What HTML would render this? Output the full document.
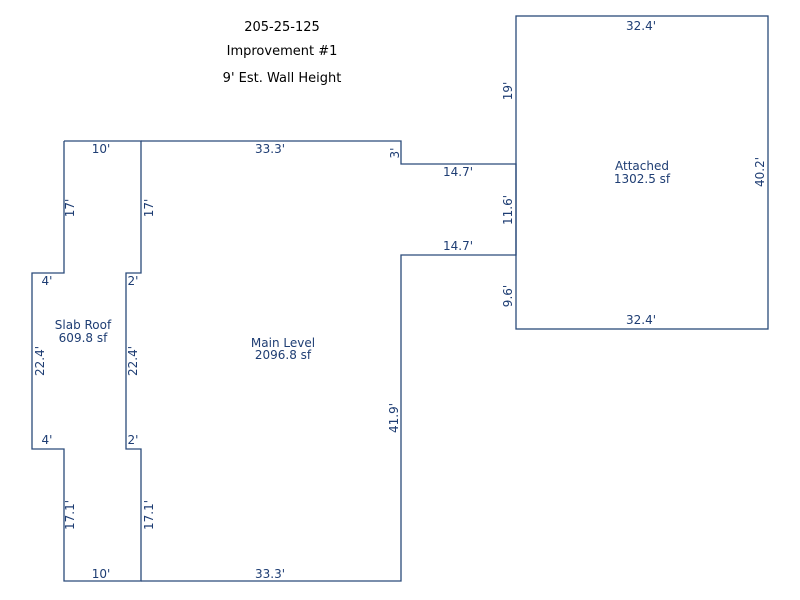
<!DOCTYPE html>
<html><head><style>
html,body{margin:0;padding:0;background:#fff;}
svg{display:block;}
text{font-family:"DejaVu Sans","Liberation Sans",sans-serif;font-size:12px;fill:#1e3d73;}
.t{fill:#000;font-size:13px;}
</style></head><body>
<svg width="800" height="600" viewBox="0 0 800 600" xmlns="http://www.w3.org/2000/svg">
<g fill="none" stroke="#2a4a7a" stroke-width="1.3">
<polyline points="64,141 141,141 141,273 126,273 126,449 141,449 141,581 64,581 64,449 32,449 32,273 64,273 64,141"/>
<polyline points="141,141 401,141 401,164 516,164 516,255 401,255 401,581 141,581"/>
<rect x="516" y="16" width="252" height="313"/>
</g>
<g text-anchor="middle">
<text class="t" x="282" y="31">205-25-125</text>
<text class="t" x="282" y="55">Improvement #1</text>
<text class="t" x="282" y="82">9' Est. Wall Height</text>
<text x="101" y="153">10'</text>
<text x="270" y="153">33.3'</text>
<text x="458" y="176">14.7'</text>
<text x="458" y="250">14.7'</text>
<text x="641" y="30">32.4'</text>
<text x="641" y="324">32.4'</text>
<text x="642" y="170">Attached</text>
<text x="642" y="183">1302.5 sf</text>
<text x="283" y="347">Main Level</text>
<text x="283" y="359">2096.8 sf</text>
<text x="83" y="329">Slab Roof</text>
<text x="83" y="342">609.8 sf</text>
<text x="47" y="285">4'</text>
<text x="47" y="444">4'</text>
<text x="133" y="285">2'</text>
<text x="133" y="444">2'</text>
<text x="101" y="578">10'</text>
<text x="270" y="578">33.3'</text>
<text transform="translate(399,153) rotate(-90)">3'</text>
<text transform="translate(74,208) rotate(-90)">17'</text>
<text transform="translate(153,208) rotate(-90)">17'</text>
<text transform="translate(44,361) rotate(-90)">22.4'</text>
<text transform="translate(137,361) rotate(-90)">22.4'</text>
<text transform="translate(74,515) rotate(-90)">17.1'</text>
<text transform="translate(153,515) rotate(-90)">17.1'</text>
<text transform="translate(398,418) rotate(-90)">41.9'</text>
<text transform="translate(512,91) rotate(-90)">19'</text>
<text transform="translate(512,210) rotate(-90)">11.6'</text>
<text transform="translate(512,296) rotate(-90)">9.6'</text>
<text transform="translate(764,172) rotate(-90)">40.2'</text>
</g>
</svg>
</body></html>
